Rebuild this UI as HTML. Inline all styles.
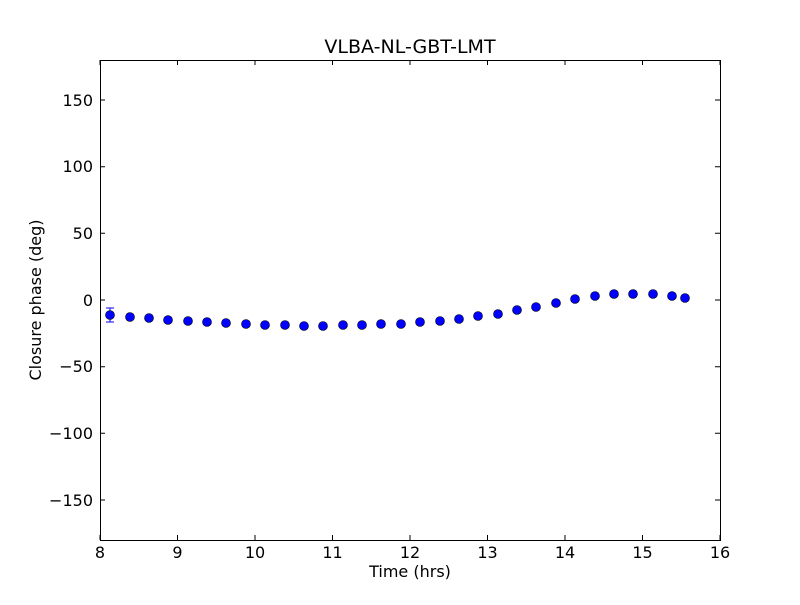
<!DOCTYPE html>
<html><head><meta charset="utf-8"><style>body{margin:0;background:#fff}</style></head><body>
<svg width="800" height="600" xmlns="http://www.w3.org/2000/svg" font-family="DejaVu Sans, Liberation Sans, sans-serif">
<rect width="800" height="600" fill="#fff"/>
<text x="410" y="53" font-size="19" text-anchor="middle">VLBA-NL-GBT-LMT</text>
<g stroke="#00f" stroke-width="1">
<line x1="110" y1="308" x2="110" y2="322"/>
<line x1="106" y1="308" x2="114" y2="308"/>
<line x1="106" y1="322" x2="114" y2="322"/>
</g>
<g fill="#00f" stroke="#000" stroke-width="0.6">
<circle cx="110" cy="315" r="4.5"/><circle cx="130" cy="317" r="4.5"/><circle cx="149" cy="318" r="4.5"/><circle cx="168" cy="320" r="4.5"/><circle cx="188" cy="321" r="4.5"/><circle cx="207" cy="322" r="4.5"/><circle cx="226" cy="323" r="4.5"/><circle cx="246" cy="324" r="4.5"/><circle cx="265" cy="325" r="4.5"/><circle cx="285" cy="325" r="4.5"/><circle cx="304" cy="326" r="4.5"/><circle cx="323" cy="326" r="4.5"/><circle cx="343" cy="325" r="4.5"/><circle cx="362" cy="325" r="4.5"/><circle cx="381" cy="324" r="4.5"/><circle cx="401" cy="324" r="4.5"/><circle cx="420" cy="322" r="4.5"/><circle cx="440" cy="321" r="4.5"/><circle cx="459" cy="319" r="4.5"/><circle cx="478" cy="316" r="4.5"/><circle cx="498" cy="314" r="4.5"/><circle cx="517" cy="310" r="4.5"/><circle cx="536" cy="307" r="4.5"/><circle cx="556" cy="303" r="4.5"/><circle cx="575" cy="299" r="4.5"/><circle cx="595" cy="296" r="4.5"/><circle cx="614" cy="294" r="4.5"/><circle cx="633" cy="294" r="4.5"/><circle cx="653" cy="294" r="4.5"/><circle cx="672" cy="296" r="4.5"/><circle cx="685" cy="298" r="4.5"/>
</g>
<rect x="100.5" y="60.5" width="620" height="480" fill="none" stroke="#000"/>
<g stroke="#000">
<path d="M100 540v-5M177.5 540v-5M255 540v-5M332.5 540v-5M410 540v-5M487.5 540v-5M565 540v-5M642.5 540v-5M720 540v-5M100 60v5M177.5 60v5M255 60v5M332.5 60v5M410 60v5M487.5 60v5M565 60v5M642.5 60v5M720 60v5"/>
<path d="M100 100h5M100 166.7h5M100 233.3h5M100 300h5M100 366.7h5M100 433.3h5M100 500h5M720 100h-5M720 166.7h-5M720 233.3h-5M720 300h-5M720 366.7h-5M720 433.3h-5M720 500h-5"/>
</g>
<g font-size="16" text-anchor="middle">
<text x="100" y="558">8</text><text x="177.5" y="558">9</text><text x="255" y="558">10</text><text x="332.5" y="558">11</text><text x="410" y="558">12</text><text x="487.5" y="558">13</text><text x="565" y="558">14</text><text x="642.5" y="558">15</text><text x="720" y="558">16</text>
</g>
<g font-size="16" text-anchor="end">
<text x="93" y="106">150</text><text x="93" y="172">100</text><text x="93" y="239">50</text><text x="93" y="306">0</text><text x="93" y="372">−50</text><text x="93" y="439">−100</text><text x="93" y="506">−150</text>
</g>
<text x="410" y="577" font-size="16" text-anchor="middle">Time (hrs)</text>
<text transform="translate(41,300) rotate(-90)" font-size="16" text-anchor="middle">Closure phase (deg)</text>
</svg>
</body></html>
